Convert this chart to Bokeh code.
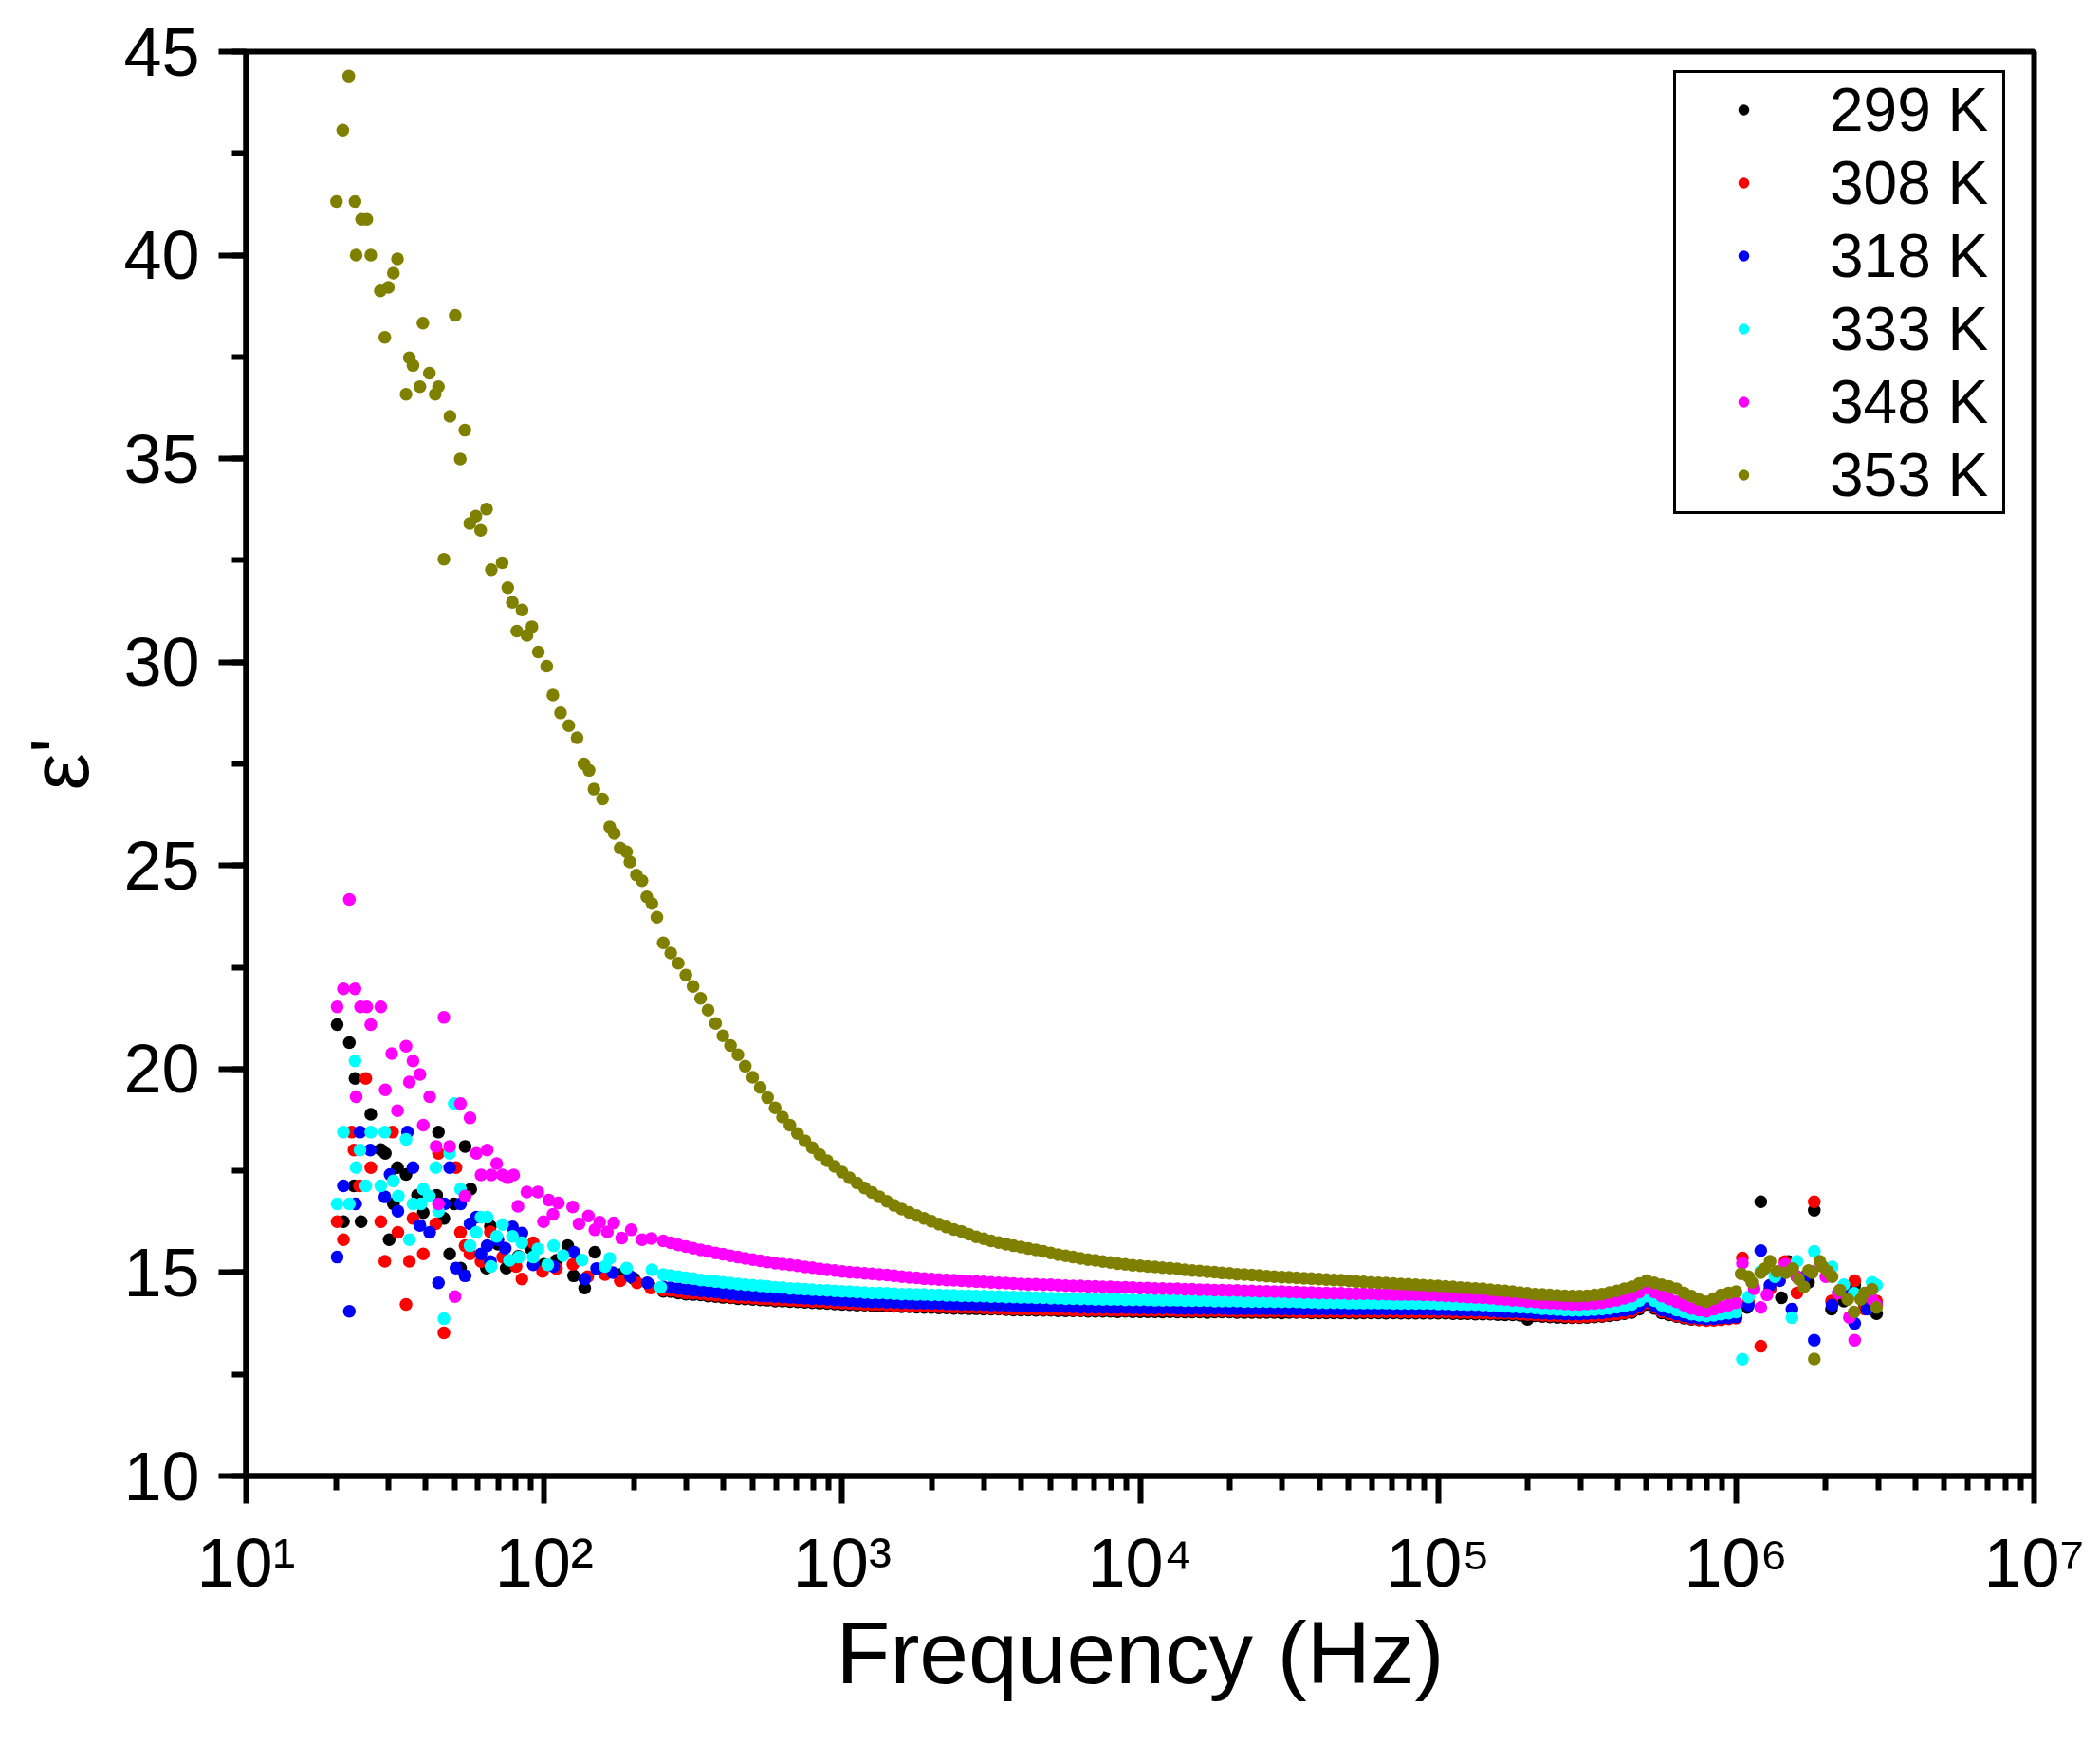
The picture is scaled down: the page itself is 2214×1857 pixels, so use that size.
from bokeh.plotting import figure
from bokeh.models import FixedTicker, SingleIntervalTicker, Legend, LegendItem
from bokeh.embed import file_html
from bokeh.resources import INLINE

FONT = "Liberation Sans"

# x axis decades and their labels
x_ticks = [1e1, 1e2, 1e3, 1e4, 1e5, 1e6, 1e7]
x_tick_labels = ["10¹", "10²", "10³", "10⁴", "10⁵", "10⁶", "10⁷"]

# sweep frequencies (Hz) of the dense part, 250 Hz .. 1 MHz
freq_dense = [251, 266, 282, 299, 316, 335, 355, 376, 398, 422, 447, 473,
              501, 531, 562, 596, 631, 668, 708, 750, 794, 841, 891, 944,
              1000, 1059, 1122, 1189, 1259, 1334, 1413, 1496, 1585, 1679,
              1778, 1884, 1995, 2113, 2239, 2371, 2512, 2661, 2818, 2985,
              3162, 3350, 3548, 3758, 3981, 4217, 4467, 4732, 5012, 5309,
              5623, 5957, 6310, 6683, 7079, 7499, 7943, 8414, 8913, 9441,
              10000, 10593, 11220, 11885, 12589, 13335, 14125, 14962, 15849, 16788,
              17783, 18836, 19953, 21135, 22387, 23714, 25119, 26607, 28184, 29854,
              31623, 33497, 35481, 37584, 39811, 42170, 44668, 47315, 50119, 53088,
              56234, 59566, 63096, 66834, 70795, 74989, 79433, 84140, 89125, 94406,
              100000, 105925, 112202, 118850, 125893, 133352, 141254, 149624, 158489, 167880,
              177828, 188365, 199526, 211349, 223872, 237137, 251189, 266073, 281838, 298538,
              316228, 334965, 354813, 375837, 398107, 421697, 446684, 473151, 501187, 530884,
              562341, 595662, 630957, 668344, 707946, 749894, 794328, 841395, 891251, 944061,
              1000000]

# ---- 299 K ----
low_299 = [(20.2, 21.09), (21.2, 16.25), (22.2, 20.65), (23.0, 17.13), (23.2, 19.77), (24.3, 16.25),
           (26.2, 18.89), (28.3, 18.02), (29.3, 17.93), (30.2, 15.81), (31.2, 16.69), (32.2, 17.58),
           (34.4, 17.41), (37.6, 16.90), (39.3, 16.47), (43.6, 16.90), (44.2, 18.45), (46.1, 16.33),
           (48.2, 15.46), (49.9, 16.69), (52.4, 15.11), (54.3, 18.10), (56.7, 17.05), (64.0, 15.11),
           (66.0, 16.14), (70.0, 15.70), (74.6, 15.11), (82.0, 15.40), (90.0, 15.60), (100, 15.20),
           (110, 15.30), (120, 15.66), (125.6, 14.92), (136.8, 14.62), (148, 15.50), (160, 15.10),
           (180, 14.95), (200, 14.85), (225, 14.70)]
dense_299 = [14.54, 14.53, 14.50, 14.47, 14.46, 14.45, 14.42, 14.41, 14.39, 14.38, 14.36, 14.35,
             14.34, 14.33, 14.32, 14.30, 14.30, 14.29, 14.28, 14.27, 14.26, 14.25, 14.24, 14.23,
             14.22, 14.21, 14.20, 14.20, 14.19, 14.18, 14.18, 14.17, 14.16, 14.16,
             14.15, 14.14, 14.14, 14.13, 14.13, 14.12, 14.12, 14.11, 14.11, 14.10,
             14.10, 14.10, 14.09, 14.08, 14.08, 14.08, 14.07, 14.07, 14.07, 14.06,
             14.06, 14.06, 14.06, 14.05, 14.05, 14.05, 14.05, 14.04, 14.05, 14.04,
             14.04, 14.04, 14.04, 14.03, 14.04, 14.03, 14.03, 14.03, 14.03, 14.02,
             14.03, 14.03, 14.03, 14.02, 14.02, 14.02, 14.02, 14.02, 14.02, 14.01,
             14.02, 14.02, 14.02, 14.01, 14.01, 14.01, 14.01, 14.01, 14.01, 14.00,
             14.01, 14.01, 14.01, 14.00, 14.01, 14.00, 14.00, 14.00, 14.00, 14.00,
             14.00, 14.00, 13.99, 13.99, 13.99, 13.98, 13.98, 13.98, 13.97, 13.96,
             13.96, 13.95, 13.85, 13.94, 13.92, 13.91, 13.90, 13.89, 13.89, 13.89,
             13.90, 13.91, 13.92, 13.94, 13.96, 13.99, 14.02, 14.10, 14.22, 14.12,
             14.01, 13.96, 13.92, 13.88, 13.85, 13.84, 13.84, 13.85, 13.86, 13.88,
             13.90]
high_299 = [(1.09e6, 14.14), (1.21e6, 16.74), (1.3e6, 14.60), (1.42e6, 14.38), (1.5e6, 15.27),
            (1.6e6, 14.90), (1.75e6, 14.76), (1.83e6, 16.53), (2.09e6, 14.10), (2.3e6, 14.30),
            (2.5e6, 14.69), (2.7e6, 14.20), (2.96e6, 13.99)]

# ---- 308 K ----
low_308 = [(20.2, 16.25), (21.2, 15.81), (22.6, 18.45), (23.0, 18.01), (24.0, 17.13), (25.2, 19.77),
           (26.2, 17.58), (28.3, 16.25), (29.2, 15.28), (31.0, 18.45), (32.3, 15.99), (34.4, 14.22),
           (35.3, 15.28), (36.3, 16.33), (39.3, 15.46), (43.3, 16.20), (44.2, 17.93), (46.1, 13.52),
           (50.6, 17.58), (52.4, 15.99), (54.3, 15.66), (56.4, 15.46), (61.4, 15.27), (66.0, 16.00),
           (72.6, 15.38), (80.5, 15.15), (84.2, 14.84), (91.9, 15.73), (98.8, 15.03), (110, 15.10),
           (125, 15.20), (140, 14.90), (160, 14.95), (180, 14.80), (205, 14.75), (228, 14.62)]
dense_308 = [14.57, 14.56, 14.53, 14.50, 14.49, 14.48, 14.45, 14.44, 14.42, 14.40, 14.39, 14.38,
             14.37, 14.36, 14.35, 14.33, 14.33, 14.32, 14.31, 14.30, 14.29, 14.28, 14.27, 14.26,
             14.25, 14.24, 14.23, 14.22, 14.21, 14.21, 14.20, 14.19, 14.19, 14.18,
             14.18, 14.17, 14.17, 14.16, 14.16, 14.15, 14.15, 14.14, 14.14, 14.13,
             14.12, 14.12, 14.11, 14.10, 14.10, 14.10, 14.10, 14.09, 14.09, 14.09,
             14.09, 14.08, 14.08, 14.08, 14.08, 14.08, 14.08, 14.07, 14.07, 14.07,
             14.07, 14.07, 14.07, 14.07, 14.07, 14.06, 14.06, 14.06, 14.06, 14.06,
             14.06, 14.06, 14.06, 14.05, 14.05, 14.05, 14.05, 14.05, 14.05, 14.05,
             14.05, 14.04, 14.04, 14.04, 14.04, 14.04, 14.04, 14.04, 14.04, 14.04,
             14.04, 14.04, 14.04, 14.04, 14.04, 14.03, 14.03, 14.03, 14.03, 14.03,
             14.03, 14.03, 14.02, 14.02, 14.02, 14.01, 14.01, 14.00, 14.00, 14.00,
             13.99, 13.98, 13.97, 13.96, 13.95, 13.94, 13.93, 13.92, 13.91, 13.91,
             13.92, 13.93, 13.94, 13.96, 13.98, 14.01, 14.05, 14.14, 14.26, 14.15,
             14.04, 13.99, 13.94, 13.90, 13.86, 13.84, 13.82, 13.83, 13.84, 13.86,
             13.88]
high_308 = [(1.05e6, 15.36), (1.1e6, 14.30), (1.21e6, 13.19), (1.3e6, 14.60), (1.46e6, 15.27),
            (1.6e6, 14.50), (1.83e6, 16.74), (2.09e6, 14.30), (2.3e6, 14.50), (2.5e6, 14.80),
            (2.7e6, 14.10), (2.96e6, 14.30)]

# ---- 318 K ----
low_318 = [(20.2, 15.38), (21.2, 17.13), (22.2, 14.05), (23.3, 16.69), (24.1, 18.45), (26.1, 18.01),
           (29.2, 16.86), (30.4, 17.41), (32.3, 16.51), (34.8, 18.45), (36.3, 17.58), (38.3, 16.16),
           (41.3, 15.99), (44.2, 14.75), (46.3, 16.69), (48.2, 17.58), (50.6, 15.11), (52.4, 16.69),
           (54.3, 14.92), (56.4, 16.20), (59.2, 16.36), (61.4, 15.46), (64.4, 15.66), (66.0, 15.27),
           (70.0, 15.80), (74.0, 15.60), (78.3, 16.12), (84.2, 15.97), (91.9, 15.19), (107.6, 15.15),
           (126, 15.50), (136.8, 14.84), (150, 15.10), (170, 15.00), (195, 14.90), (222, 14.75)]
dense_318 = [14.65, 14.63, 14.61, 14.59, 14.57, 14.55, 14.53, 14.52, 14.50, 14.48, 14.46, 14.45,
             14.44, 14.43, 14.42, 14.41, 14.40, 14.39, 14.38, 14.37, 14.36, 14.35, 14.34, 14.33,
             14.32, 14.31, 14.30, 14.29, 14.28, 14.28, 14.27, 14.27, 14.26, 14.26,
             14.25, 14.25, 14.24, 14.24, 14.23, 14.23, 14.22, 14.22, 14.21, 14.21,
             14.20, 14.20, 14.19, 14.19, 14.18, 14.18, 14.17, 14.17, 14.17, 14.17,
             14.16, 14.16, 14.15, 14.15, 14.14, 14.14, 14.14, 14.14, 14.14, 14.13,
             14.13, 14.13, 14.13, 14.13, 14.13, 14.12, 14.12, 14.12, 14.12, 14.12,
             14.12, 14.12, 14.11, 14.11, 14.11, 14.11, 14.11, 14.11, 14.11, 14.10,
             14.10, 14.10, 14.10, 14.10, 14.10, 14.10, 14.10, 14.10, 14.10, 14.10,
             14.10, 14.10, 14.10, 14.10, 14.10, 14.10, 14.10, 14.10, 14.10, 14.10,
             14.09, 14.09, 14.09, 14.08, 14.08, 14.07, 14.07, 14.06, 14.05, 14.04,
             14.04, 14.03, 14.02, 14.01, 14.00, 13.99, 13.99, 13.98, 13.98, 13.98,
             13.99, 14.00, 14.01, 14.03, 14.05, 14.07, 14.10, 14.19, 14.30, 14.19,
             14.08, 14.03, 13.98, 13.94, 13.90, 13.88, 13.86, 13.87, 13.88, 13.89,
             13.91]
high_318 = [(1.1e6, 14.20), (1.21e6, 15.54), (1.3e6, 14.69), (1.4e6, 14.80), (1.54e6, 14.10),
            (1.7e6, 14.90), (1.83e6, 13.34), (2.1e6, 14.20), (2.3e6, 14.60), (2.5e6, 13.75),
            (2.75e6, 14.10), (2.96e6, 14.20)]

# ---- 333 K ----
low_333 = [(20.2, 16.69), (21.2, 18.45), (22.2, 16.69), (23.2, 20.20), (23.4, 17.58), (24.1, 18.01),
           (25.2, 17.13), (26.2, 18.45), (28.3, 17.13), (29.2, 18.45), (31.2, 17.25), (32.4, 16.88),
           (34.4, 18.27), (35.3, 15.81), (36.3, 16.69), (38.6, 16.69), (39.3, 17.05), (41.2, 16.88),
           (43.3, 17.58), (44.2, 16.51), (46.1, 13.87), (48.2, 17.93), (49.9, 19.15), (52.4, 17.05),
           (56.4, 15.66), (59.2, 15.99), (61.4, 16.36), (64.4, 16.36), (66.3, 15.15), (69.3, 15.89),
           (72.5, 16.18), (76.5, 15.30), (78.3, 15.89), (82.3, 15.38), (84.2, 15.73), (91.9, 15.38),
           (95.3, 15.58), (102.8, 15.19), (107.6, 15.66), (115.7, 15.42), (134, 15.31), (160, 15.15),
           (166, 15.35), (189, 15.11), (230, 15.07), (246, 14.64)]
dense_333 = [14.95, 14.93, 14.90, 14.87, 14.85, 14.82, 14.80, 14.78, 14.76, 14.74, 14.72, 14.70,
             14.69, 14.67, 14.66, 14.64, 14.63, 14.61, 14.60, 14.59, 14.58, 14.57, 14.56, 14.55,
             14.54, 14.53, 14.52, 14.51, 14.50, 14.50, 14.49, 14.48, 14.47, 14.47,
             14.46, 14.46, 14.45, 14.45, 14.44, 14.44, 14.43, 14.43, 14.42, 14.42,
             14.41, 14.41, 14.40, 14.40, 14.39, 14.39, 14.38, 14.38, 14.37, 14.37,
             14.36, 14.36, 14.35, 14.35, 14.34, 14.34, 14.34, 14.34, 14.33, 14.33,
             14.33, 14.33, 14.32, 14.32, 14.32, 14.32, 14.31, 14.31, 14.31, 14.31,
             14.30, 14.30, 14.30, 14.30, 14.29, 14.29, 14.29, 14.29, 14.28, 14.28,
             14.28, 14.28, 14.27, 14.27, 14.26, 14.26, 14.26, 14.26, 14.25, 14.25,
             14.25, 14.25, 14.25, 14.25, 14.24, 14.24, 14.24, 14.24, 14.24, 14.24,
             14.23, 14.23, 14.22, 14.22, 14.21, 14.21, 14.20, 14.19, 14.18, 14.17,
             14.16, 14.15, 14.14, 14.13, 14.11, 14.10, 14.09, 14.08, 14.07, 14.07,
             14.08, 14.09, 14.10, 14.12, 14.15, 14.18, 14.22, 14.31, 14.42, 14.31,
             14.20, 14.14, 14.08, 14.03, 13.98, 13.95, 13.93, 13.95, 13.98, 14.00,
             14.03]
high_333 = [(1.05e6, 12.87), (1.1e6, 14.40), (1.21e6, 15.03), (1.35e6, 14.90), (1.54e6, 13.89),
            (1.6e6, 15.28), (1.83e6, 15.52), (2.1e6, 15.14), (2.3e6, 14.70), (2.49e6, 14.49),
            (2.86e6, 14.76), (2.96e6, 14.69)]

# ---- 348 K ----
low_348 = [(20.2, 21.53), (21.2, 21.97), (22.2, 24.17), (23.2, 21.97), (23.4, 19.32), (24.2, 21.53),
           (25.4, 21.53), (26.2, 21.09), (28.3, 21.53), (29.3, 19.49), (30.8, 20.38), (32.2, 18.98),
           (34.4, 20.56), (35.3, 19.68), (36.3, 20.20), (38.3, 19.87), (39.3, 18.62), (41.3, 19.32),
           (43.4, 18.10), (44.2, 16.69), (46.1, 21.27), (48.2, 18.10), (50.2, 14.41), (52.4, 19.15),
           (54.3, 16.88), (56.4, 18.80), (59.2, 17.93), (61.4, 17.40), (64.4, 18.01), (66.5, 17.40),
           (69.3, 17.68), (72.5, 17.40), (75.5, 17.33), (79.0, 17.40), (81.7, 16.63), (87.5, 16.98),
           (95.3, 16.98), (99.5, 16.25), (103.7, 16.78), (107.1, 16.43), (111.6, 16.71), (124.7, 16.61),
           (130.9, 16.20), (140.8, 16.39), (148, 16.05), (153.6, 16.24), (163, 16.00), (171.3, 16.22),
           (182, 15.85), (196, 16.05), (213, 15.81), (229, 15.84)]
dense_348 = [15.78, 15.73, 15.68, 15.64, 15.60, 15.56, 15.52, 15.48, 15.45, 15.41, 15.38, 15.35,
             15.32, 15.29, 15.26, 15.23, 15.21, 15.19, 15.17, 15.14, 15.12, 15.09, 15.07, 15.05,
             15.03, 15.01, 15.00, 14.98, 14.97, 14.95, 14.94, 14.92, 14.90, 14.88,
             14.87, 14.85, 14.84, 14.83, 14.82, 14.81, 14.80, 14.79, 14.78, 14.77,
             14.76, 14.75, 14.74, 14.73, 14.72, 14.71, 14.71, 14.70, 14.70, 14.69,
             14.68, 14.67, 14.67, 14.66, 14.66, 14.65, 14.65, 14.64, 14.64, 14.63,
             14.62, 14.62, 14.61, 14.61, 14.60, 14.60, 14.59, 14.59, 14.58, 14.58,
             14.57, 14.57, 14.56, 14.56, 14.55, 14.55, 14.54, 14.54, 14.53, 14.53,
             14.52, 14.52, 14.51, 14.51, 14.50, 14.50, 14.49, 14.49, 14.48, 14.48,
             14.48, 14.48, 14.47, 14.47, 14.46, 14.46, 14.46, 14.46, 14.45, 14.45,
             14.44, 14.43, 14.42, 14.41, 14.40, 14.39, 14.38, 14.37, 14.35, 14.34,
             14.32, 14.31, 14.29, 14.28, 14.26, 14.25, 14.24, 14.23, 14.22, 14.22,
             14.23, 14.24, 14.26, 14.29, 14.32, 14.37, 14.42, 14.52, 14.62, 14.52,
             14.42, 14.35, 14.28, 14.20, 14.12, 14.08, 14.05, 14.10, 14.15, 14.20,
             14.26]
high_348 = [(1.05e6, 15.23), (1.15e6, 14.60), (1.21e6, 14.14), (1.27e6, 14.45), (1.46e6, 15.20),
            (1.6e6, 14.90), (1.8e6, 15.03), (2.0e6, 14.90), (2.2e6, 14.50), (2.4e6, 13.90),
            (2.5e6, 13.34), (2.86e6, 14.34), (2.96e6, 14.20)]

# ---- 353 K ----
low_353 = [(20.1, 41.32), (21.1, 43.07), (22.1, 44.40), (23.2, 41.32), (23.4, 40.00), (24.4, 40.88),
           (25.4, 40.88), (26.2, 40.00), (28.2, 39.12), (29.2, 37.98), (30.0, 39.21), (31.2, 39.56),
           (32.2, 39.91), (34.4, 36.58), (35.3, 37.48), (36.3, 37.29), (38.3, 36.77), (39.2, 38.33),
           (41.2, 37.10), (43.1, 36.58), (44.2, 36.77), (46.1, 32.53), (48.3, 36.04), (50.3, 38.52),
           (52.3, 34.99), (54.2, 35.70), (56.3, 33.41), (59.0, 33.59), (61.2, 33.24), (64.1, 33.76),
           (66.5, 32.27), (72.3, 32.44), (75.5, 31.83), (78.2, 31.47), (81.0, 30.76), (84.3, 31.28),
           (87.6, 30.66), (91.0, 30.87), (95.6, 30.25), (102, 29.90), (107, 29.19), (113.5, 28.75),
           (121, 28.44), (129, 28.14), (136, 27.50), (141.5, 27.34), (147, 26.88), (157, 26.64),
           (166, 25.95), (172, 25.79), (180, 25.43), (189, 25.34), (194, 25.09), (204, 24.77),
           (213, 24.63), (221, 24.23), (230, 24.07), (239, 23.73)]
dense_353 = [23.10, 22.85, 22.60, 22.31, 22.03, 21.74, 21.45, 21.12, 20.82, 20.58, 20.35, 20.07,
             19.80, 19.55, 19.30, 19.05, 18.82, 18.62, 18.42, 18.24, 18.07, 17.90, 17.75, 17.61,
             17.47, 17.33, 17.20, 17.08, 16.97, 16.86, 16.75, 16.65, 16.56, 16.48,
             16.40, 16.33, 16.26, 16.19, 16.12, 16.06, 16.01, 15.94, 15.88, 15.83,
             15.78, 15.74, 15.70, 15.66, 15.63, 15.59, 15.56, 15.52, 15.48, 15.44,
             15.41, 15.38, 15.35, 15.32, 15.30, 15.27, 15.25, 15.22, 15.20, 15.18,
             15.17, 15.15, 15.14, 15.12, 15.11, 15.09, 15.07, 15.05, 15.04, 15.02,
             15.01, 14.99, 14.98, 14.96, 14.95, 14.94, 14.93, 14.91, 14.90, 14.89,
             14.88, 14.87, 14.86, 14.85, 14.84, 14.83, 14.82, 14.81, 14.80, 14.78,
             14.77, 14.76, 14.75, 14.74, 14.73, 14.72, 14.71, 14.70, 14.69, 14.68,
             14.67, 14.66, 14.65, 14.63, 14.62, 14.61, 14.60, 14.58, 14.56, 14.55,
             14.53, 14.51, 14.49, 14.47, 14.46, 14.45, 14.44, 14.43, 14.42, 14.42,
             14.43, 14.45, 14.47, 14.51, 14.55, 14.60, 14.65, 14.73, 14.80, 14.75,
             14.70, 14.66, 14.60, 14.50, 14.42, 14.34, 14.28, 14.36, 14.45, 14.50,
             14.53]
high_353 = [(1.04e6, 14.97), (1.1e6, 14.90), (1.13e6, 14.76), (1.21e6, 15.00), (1.25e6, 15.10),
            (1.3e6, 15.28), (1.37e6, 15.03), (1.47e6, 15.00), (1.55e6, 15.10), (1.62e6, 14.84),
            (1.69e6, 14.65), (1.75e6, 15.05), (1.8e6, 15.00), (1.83e6, 12.88), (1.91e6, 15.28),
            (1.95e6, 15.15), (2.03e6, 15.03), (2.1e6, 14.90), (2.23e6, 14.57), (2.37e6, 14.34),
            (2.49e6, 14.03), (2.62e6, 14.34), (2.7e6, 14.50), (2.86e6, 14.59), (2.96e6, 14.14)]

series = [
    ("299 K", "#000000", low_299, dense_299, high_299),
    ("308 K", "#ff0000", low_308, dense_308, high_308),
    ("318 K", "#0000ff", low_318, dense_318, high_318),
    ("333 K", "#00ffff", low_333, dense_333, high_333),
    ("348 K", "#ff00ff", low_348, dense_348, high_348),
    ("353 K", "#808000", low_353, dense_353, high_353),
]

p = figure(x_axis_type="log", x_range=(10, 1e7), y_range=(10, 45),
           frame_width=1885, frame_height=1502,
           min_border_left=259, min_border_right=54, min_border_top=54, min_border_bottom=285,
           output_backend="svg", toolbar_location=None)

p.xgrid.visible = False
p.ygrid.visible = False
p.outline_line_color = "black"
p.outline_line_width = 6
p.outline_line_alpha = 1.0
p.background_fill_color = "white"
p.border_fill_color = "white"

items = []
for label, colour, low, dense, high in series:
    assert len(dense) == len(freq_dense), (label, len(dense))
    xs = [f for f, _ in low] + freq_dense + [f for f, _ in high]
    ys = [e for _, e in low] + dense + [e for _, e in high]
    r = p.scatter(xs, ys, size=13.5, fill_color=colour, line_color=None)
    items.append(LegendItem(label=label, renderers=[r]))

minor = [m * 10 ** k for k in range(1, 7) for m in range(2, 10)]
p.xaxis.ticker = FixedTicker(ticks=x_ticks, minor_ticks=minor)
p.xaxis.major_label_overrides = dict(zip(x_ticks, x_tick_labels))
p.yaxis.ticker = SingleIntervalTicker(interval=5, num_minor_ticks=2)

p.xaxis.axis_label = "Frequency (Hz)"
p.yaxis.axis_label = "ε'"

for ax in (p.xaxis[0], p.yaxis[0]):
    ax.axis_line_width = 6
    ax.axis_line_color = "black"
    ax.major_tick_line_width = 6
    ax.minor_tick_line_width = 6
    ax.major_tick_out = 29
    ax.major_tick_in = 0
    ax.minor_tick_out = 15
    ax.minor_tick_in = 0
    ax.major_label_text_font = FONT
    ax.major_label_text_font_size = "72px"
    ax.major_label_text_color = "black"
    ax.axis_label_text_font = FONT
    ax.axis_label_text_font_style = "normal"
    ax.axis_label_text_color = "black"

p.xaxis.axis_label_text_font_size = "93px"
p.yaxis.axis_label_text_font_size = "88px"
p.xaxis.major_label_standoff = 22
p.xaxis.axis_label_standoff = 0
p.yaxis.major_label_standoff = 20
p.yaxis.axis_label_standoff = 15

legend = Legend(items=items, location=(1505, 1014), padding=0, spacing=0, margin=0,
                glyph_width=142, glyph_height=29, label_standoff=20,
                label_width=182, label_height=77,
                label_text_font=FONT, label_text_font_size="64px", label_text_color="black",
                border_line_color="black", border_line_width=3, border_line_alpha=1.0,
                background_fill_color="white", background_fill_alpha=1.0)
p.add_layout(legend)

open("out.html", "w").write(file_html(p, INLINE))
